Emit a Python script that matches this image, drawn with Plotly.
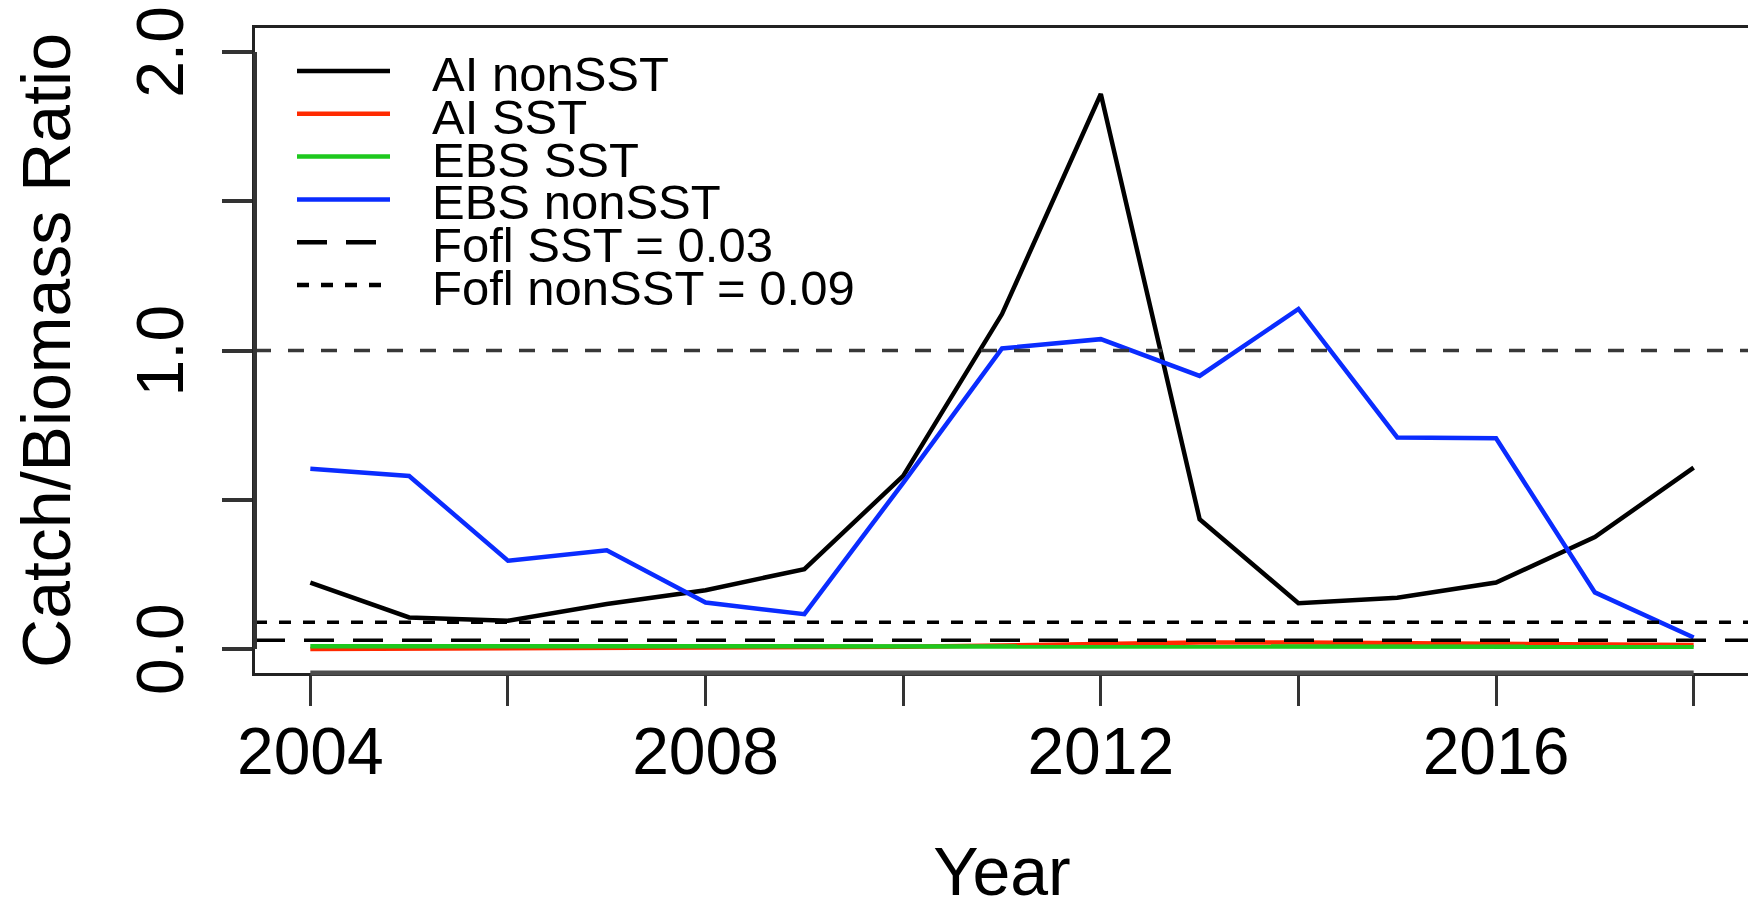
import plotly.graph_objects as go

# ---------------- data ----------------
years = list(range(2004, 2019))
ai_nonsst = [0.223, 0.106, 0.095, 0.151, 0.197, 0.268, 0.580, 1.122, 1.859, 0.435, 0.154, 0.172, 0.223, 0.375, 0.608]
ai_sst = [0.000, 0.001, 0.002, 0.003, 0.004, 0.006, 0.008, 0.012, 0.018, 0.022, 0.022, 0.020, 0.018, 0.016, 0.014]
ebs_sst = [0.010, 0.010, 0.010, 0.010, 0.010, 0.010, 0.009, 0.009, 0.009, 0.009, 0.008, 0.008, 0.008, 0.008, 0.008]
ebs_nonsst = [0.604, 0.580, 0.296, 0.331, 0.156, 0.117, 0.557, 1.007, 1.038, 0.915, 1.139, 0.709, 0.706, 0.190, 0.039]

fofl_sst = 0.03
fofl_nonsst = 0.09
ref_ratio = 1.0

series_names = ["AI nonSST", "AI SST", "EBS SST", "EBS nonSST"]
series_colors = ["#000000", "#ff2a00", "#1ec81e", "#0a2cff"]
legend_labels = ["AI nonSST", "AI SST", "EBS SST", "EBS nonSST", "Fofl SST = 0.03", "Fofl nonSST = 0.09"]

x_tickvals = [2004, 2006, 2008, 2010, 2012, 2014, 2016, 2018]
x_ticktext = ["2004", "", "2008", "", "2012", "", "2016", ""]
y_tickvals = [0.0, 0.5, 1.0, 1.5, 2.0]
y_ticktext = ["0.0", "", "1.0", "", "2.0"]

# ---------------- layout constants (pixels) ----------------
W, H = 1756, 901
BODY = 8  # default page margin around the plot div
ML, MR, MT, MB = 255, 7, 28, 228  # wanted plot-area margins in page pixels
PW = W - ML - MR
PH = H - MT - MB
FONT = "Liberation Sans, Arial, Helvetica, sans-serif"
LW = 4.5


def px_x(px):
    return (px - ML) / PW


def px_y(py):
    return (H - MB - py) / PH


fig = go.Figure()
for name, col, vals in zip(series_names, series_colors, [ai_nonsst, ai_sst, ebs_sst, ebs_nonsst]):
    fig.add_trace(go.Scatter(x=years, y=vals, mode="lines", name=name,
                             line=dict(color=col, width=LW), showlegend=False))

shapes = []
# reference lines
shapes.append(dict(type="line", xref="paper", x0=0, x1=1, yref="y", y0=ref_ratio, y1=ref_ratio,
                   line=dict(color="#383838", width=3.5, dash="16px,17px"), layer="above"))
shapes.append(dict(type="line", xref="paper", x0=0, x1=1, yref="y", y0=fofl_sst, y1=fofl_sst,
                   line=dict(color="#000000", width=3.5, dash="30px,19px"), layer="above"))
shapes.append(dict(type="line", xref="paper", x0=0, x1=1, yref="y", y0=fofl_nonsst, y1=fofl_nonsst,
                   line=dict(color="#000000", width=3.5, dash="12px,12px"), layer="above"))
# thicker R-style axis lines between first and last tick
shapes.append(dict(type="line", xref="x", x0=x_tickvals[0], x1=x_tickvals[-1], yref="paper", y0=0, y1=0,
                   line=dict(color="#4d4d4d", width=5), layer="above"))
shapes.append(dict(type="line", xref="paper", x0=0, x1=0, yref="y", y0=y_tickvals[0], y1=y_tickvals[-1],
                   line=dict(color="#333333", width=4), layer="above"))

# manual legend (R style, no box)
leg_x0, leg_x1, leg_tx = 297, 390, 430
row0, row_step = 71, 42.8
leg_colors = series_colors + ["#000000", "#000000"]
leg_dash = ["solid"] * 4 + ["30px,19px", "12px,12px"]
annotations = []
for i, lab in enumerate(legend_labels):
    ry = row0 + i * row_step
    shapes.append(dict(type="line", xref="paper", yref="paper", x0=px_x(leg_x0), x1=px_x(leg_x1),
                       y0=px_y(ry), y1=px_y(ry), line=dict(color=leg_colors[i], width=LW, dash=leg_dash[i])))
    annotations.append(dict(xref="paper", yref="paper", x=px_x(leg_tx), y=px_y(ry + 3), text=lab,
                            showarrow=False, xanchor="left", yanchor="middle",
                            font=dict(family=FONT, size=49, color="#000000")))

fig.update_layout(
    width=W, height=H,
    margin=dict(l=ML - BODY, r=MR + BODY, t=MT - BODY, b=MB + BODY, pad=0, autoexpand=False),
    paper_bgcolor="white", plot_bgcolor="white",
    font=dict(family=FONT, color="#000000"),
    shapes=shapes, annotations=annotations,
    showlegend=False,
)
fig.update_xaxes(
    range=[2003.44, 2018.56], showgrid=False, zeroline=False, automargin=False,
    showline=True, mirror=True, linecolor="#222222", linewidth=3,
    tickmode="array", tickvals=x_tickvals, ticktext=x_ticktext,
    ticks="outside", ticklen=30, tickwidth=3, tickcolor="#333333",
    tickfont=dict(family=FONT, size=66, color="#000000"), ticklabelstandoff=-11,
    title=dict(text="Year", font=dict(family=FONT, size=68, color="#000000"), standoff=76),
)
fig.update_yaxes(
    range=[-0.08, 2.08], showgrid=False, zeroline=False, automargin=False,
    showline=True, mirror=True, linecolor="#222222", linewidth=3,
    tickmode="array", tickvals=y_tickvals, ticktext=y_ticktext, tickangle=-90,
    ticks="outside", ticklen=30, tickwidth=3.5, tickcolor="#333333",
    tickfont=dict(family=FONT, size=66, color="#000000"), ticklabelstandoff=13,
    ticklabelshift=10, ticklabeloverflow="allow",
    title=dict(text="Catch/Biomass Ratio", font=dict(family=FONT, size=68, color="#000000"), standoff=65),
)

fig.write_html("out.html")
